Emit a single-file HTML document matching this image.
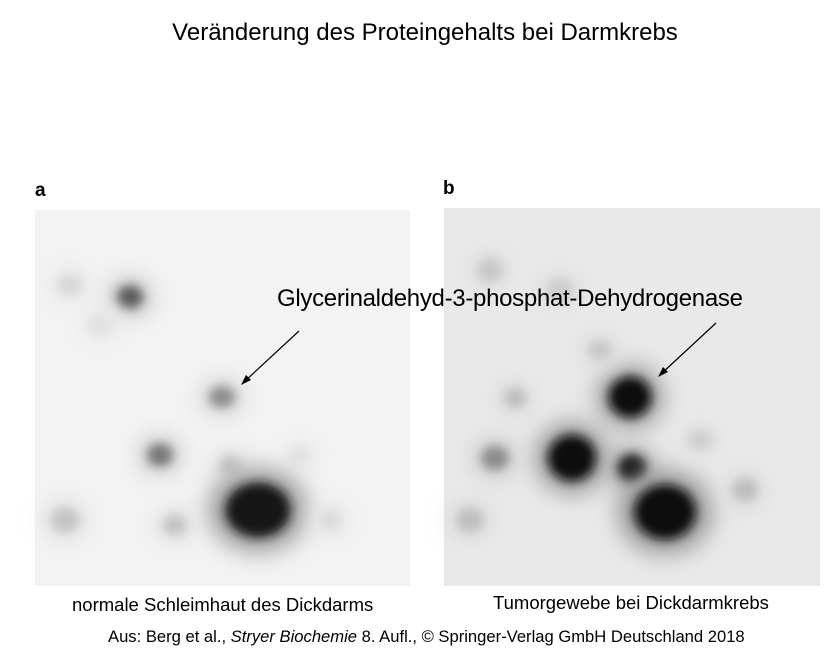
<!DOCTYPE html>
<html><head><meta charset="utf-8">
<style>
html,body{margin:0;padding:0;background:#fff;}
body{width:833px;height:665px;position:relative;overflow:hidden;font-family:"Liberation Sans",sans-serif;}
.t{position:absolute;white-space:nowrap;color:#000;}
</style></head>
<body>
<div class="t" style="left:0;width:850px;text-align:center;top:19px;font-size:24px;">Veränderung des Proteingehalts bei Darmkrebs</div>
<div class="t" style="left:35px;top:180px;font-size:19px;font-weight:bold;">a</div>
<div class="t" style="left:443px;top:178px;font-size:19px;font-weight:bold;">b</div>
<svg id="gel" width="833" height="665" style="position:absolute;left:0;top:0">
<defs>
<filter id="b1" x="-100%" y="-100%" width="300%" height="300%"><feGaussianBlur stdDeviation="5"/></filter>
<filter id="b2" x="-100%" y="-100%" width="300%" height="300%"><feGaussianBlur stdDeviation="12"/></filter>
</defs>
<rect x="35" y="210" width="375" height="376" fill="#f3f3f3"/>
<rect x="444" y="208" width="376" height="378" fill="#e9e9e9"/>
<g id="spotsA"></g>
<g id="spotsB"></g>
<line x1="299" y1="331" x2="244" y2="382" stroke="#000" stroke-width="1.2"/>
<polygon points="241,385 246,375 251,380" fill="#000"/>
<line x1="716" y1="323" x2="661" y2="374" stroke="#000" stroke-width="1.2"/>
<polygon points="658,377 663,367 668,372" fill="#000"/>
</svg>
<div class="t" style="left:277px;top:285px;font-size:24px;letter-spacing:-0.3px;">Glycerinaldehyd-3-phosphat-Dehydrogenase</div>
<div class="t" style="left:72px;top:594px;font-size:18.5px;">normale Schleimhaut des Dickdarms</div>
<div class="t" style="left:493px;top:592px;font-size:18.5px;">Tumorgewebe bei Dickdarmkrebs</div>
<div class="t" style="left:108px;top:627px;font-size:16.6px;">Aus: Berg et al., <i>Stryer Biochemie</i> 8. Aufl., © Springer-Verlag GmbH Deutschland 2018</div>
<script>
// spot data: [x, y, rx, ry, grey level]
const spotsA = [
 [130,297,15,13,90],[70,285,14,12,215],[100,325,14,12,225],[222,397,15,12,140],
 [160,455,15,13,120],[230,465,13,11,200],[300,455,12,10,225],[258,510,38,32,25],
 [65,520,16,14,195],[175,525,14,12,195],[330,520,14,12,220]
];
const spotsB = [
 [630,397,25,24,15],[572,458,28,27,15],[632,468,17,16,30],[665,512,36,32,15],
 [495,458,16,14,140],[515,398,13,12,190],[490,270,15,14,200],[560,290,16,14,205],
 [745,490,15,14,190],[470,520,16,14,190],[600,350,14,12,200],[700,440,14,12,205]
];
function draw(id, arr){
  const g=document.getElementById(id);
  arr.forEach(s=>{
    const halo=document.createElementNS('http://www.w3.org/2000/svg','ellipse');
    
    
    halo.setAttribute('cx',s[0]);halo.setAttribute('cy',s[1]);
    halo.setAttribute('rx',s[2]*1.3);halo.setAttribute('ry',s[3]*1.3);
    const v=Math.round(s[4]+(235-s[4])*0.6);
    halo.setAttribute('fill',`rgb(${v},${v},${v})`);
    halo.setAttribute('filter','url(#b2)');
    g.appendChild(halo);
    const e=document.createElementNS('http://www.w3.org/2000/svg','ellipse');
    
    
    e.setAttribute('cx',s[0]);e.setAttribute('cy',s[1]);
    e.setAttribute('rx',s[2]*0.85);e.setAttribute('ry',s[3]*0.85);
    e.setAttribute('fill',`rgb(${s[4]},${s[4]},${s[4]})`);
    e.setAttribute('filter','url(#b1)');
    g.appendChild(e);
  });
}
draw('spotsA',spotsA);
draw('spotsB',spotsB);
</script>
</body></html>
